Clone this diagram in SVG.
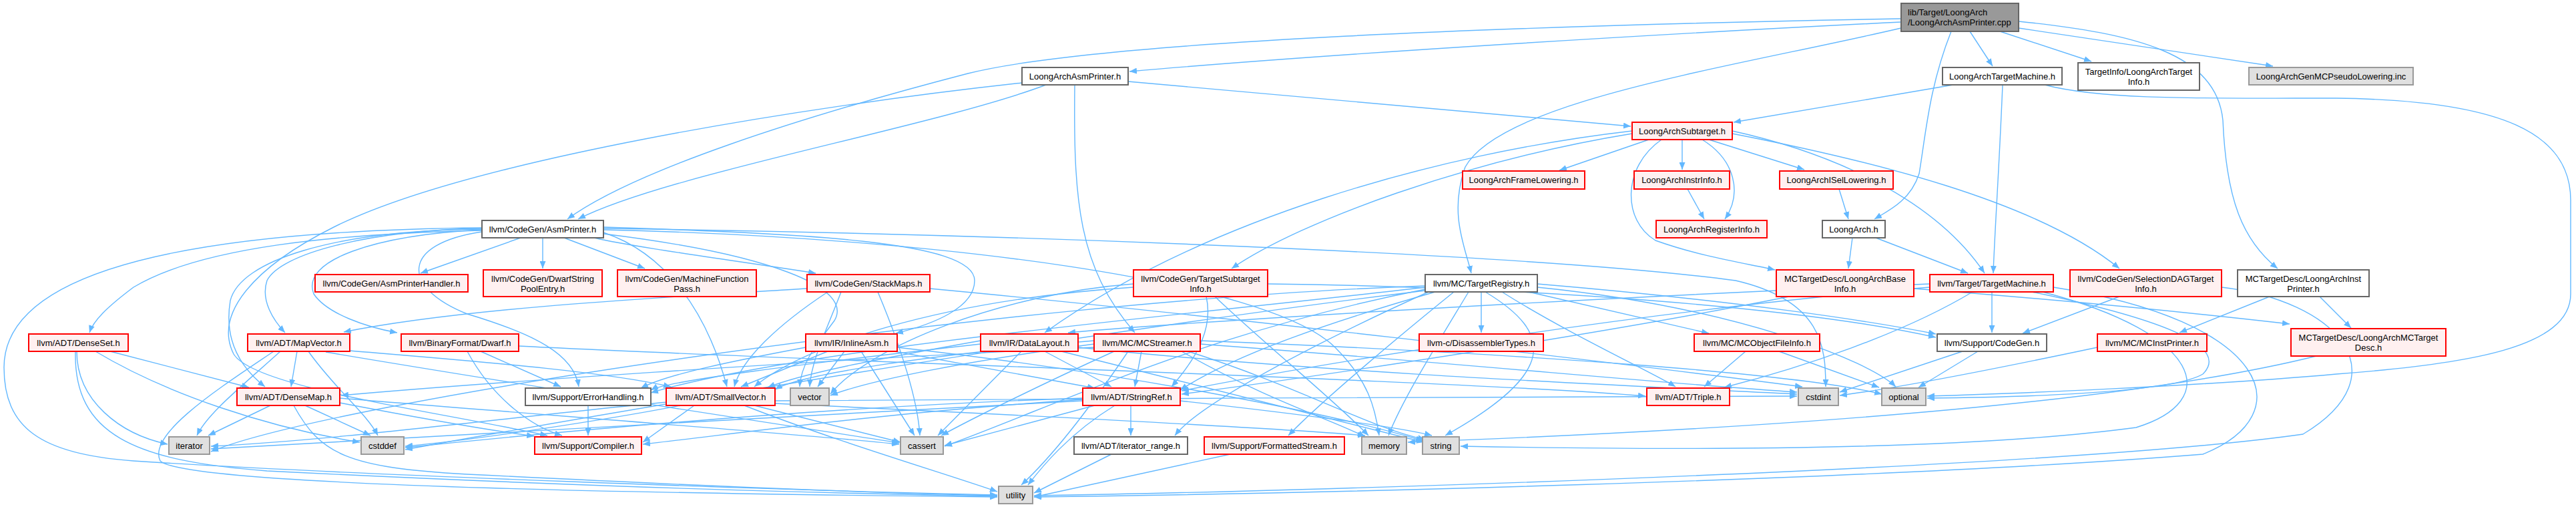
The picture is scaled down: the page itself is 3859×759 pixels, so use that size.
<svg xmlns="http://www.w3.org/2000/svg" width="3859" height="759" viewBox="0 0 3859 759">
<style>
.e{fill:none;stroke:#63b8ff;stroke-width:1.4}
.w{fill:#ffffff;stroke:#666666;stroke-width:2}
.r{fill:#fff0f0;stroke:#ff0000;stroke-width:2}
.g{fill:#e0e0e0;stroke:#999999;stroke-width:2}
.k{fill:#999999;stroke:#666666;stroke-width:2}
text{font-family:"Liberation Sans",Arial,Helvetica,sans-serif;font-size:13px;fill:#000000;text-anchor:middle}
text.l{text-anchor:start}
</style>
<defs>
<marker id="a" markerUnits="userSpaceOnUse" markerWidth="12" markerHeight="9" refX="11" refY="4.5" orient="auto">
<path d="M0,0 L11,4.5 L0,9 z" fill="#63b8ff"/>
</marker>
</defs>
<rect width="3859" height="759" fill="#ffffff"/>
<g id="edges" marker-end="url(#a)">
<path class="e" d="M2848,33 C2500,50 2000,80 1692,107"/>
<path class="e" d="M2848,28 C2300,38 1650,60 1450,110 C1200,175 950,255 850,328"/>
<path class="e" d="M2848,42 C2600,100 2250,150 2195,250 C2170,320 2195,370 2204,409"/>
<path class="e" d="M2923,47 C2890,130 2885,200 2875,260 C2862,300 2830,315 2808,328"/>
<path class="e" d="M2951,47 L2985,99"/>
<path class="e" d="M2996,47 L3133,92"/>
<path class="e" d="M3024,42 L3405,99"/>
<path class="e" d="M3024,32 C3200,50 3320,80 3330,180 C3335,300 3360,360 3412,402"/>
<path class="e" d="M1690,122 L2443,189"/>
<path class="e" d="M1567,127 C1400,190 1000,260 866,328"/>
<path class="e" d="M1610,127 C1608,300 1615,400 1700,498"/>
<path class="e" d="M1531,124 C1200,160 700,240 500,340 C380,400 320,470 350,530 C380,580 650,615 820,652"/>
<path class="e" d="M2926,127 L2597,183"/>
<path class="e" d="M3000,127 C2995,250 2988,350 2986,409"/>
<path class="e" d="M3063,127 C3150,150 3300,147 3500,147 C3750,150 3851,200 3851,300 L3851,440 C3851,520 3700,545 3500,560 C3300,578 3000,590 2887,593"/>
<path class="e" d="M2470,209 L2336,255"/>
<path class="e" d="M2520,209 L2520,254"/>
<path class="e" d="M2550,209 C2600,240 2610,290 2584,328"/>
<path class="e" d="M2560,209 L2703,254"/>
<path class="e" d="M2489,209 C2430,250 2430,330 2480,360 C2550,385 2620,395 2659,404"/>
<path class="e" d="M2445,200 C2200,240 1950,330 1845,402"/>
<path class="e" d="M2445,196 C2150,230 1800,330 1565,498"/>
<path class="e" d="M2595,200 C2800,240 3050,300 3175,402"/>
<path class="e" d="M2595,196 C2750,230 2900,300 2973,409"/>
<path class="e" d="M2528,283 L2553,328"/>
<path class="e" d="M2755,283 L2769,328"/>
<path class="e" d="M2775,356 L2769,402"/>
<path class="e" d="M2810,356 L2948,409"/>
<path class="e" d="M780,356 L630,409"/>
<path class="e" d="M813,356 L813,402"/>
<path class="e" d="M845,356 L966,402"/>
<path class="e" d="M890,356 C950,370 1100,390 1222,409"/>
<path class="e" d="M722,345 C500,350 300,370 200,430 C160,460 140,480 134,498"/>
<path class="e" d="M722,342 C550,345 420,380 400,420 C390,450 410,480 427,498"/>
<path class="e" d="M722,344 C560,352 450,390 470,440 C490,470 550,490 595,498"/>
<path class="e" d="M722,343 C500,345 360,390 345,450 C335,510 360,550 397,579"/>
<path class="e" d="M904,348 C1000,380 1060,470 1089,579"/>
<path class="e" d="M904,340 C1200,350 1460,360 1460,420 C1460,460 1400,485 1342,499"/>
<path class="e" d="M722,347 C600,365 600,430 700,470 C800,500 860,530 867,579"/>
<path class="e" d="M904,350 C1150,380 1280,430 1250,480 C1220,520 1200,545 1198,579"/>
<path class="e" d="M722,341 C300,345 6,400 6,550 C6,640 60,680 200,690 C500,710 1200,735 1494,741"/>
<path class="e" d="M904,342 C1500,350 2300,380 2600,420 C2730,450 2735,520 2735,579"/>
<path class="e" d="M904,344 C1400,355 1900,420 2000,520 C2050,570 2060,610 2066,652"/>
<path class="e" d="M165,526 L373,580"/>
<path class="e" d="M143,526 C250,590 400,640 539,662"/>
<path class="e" d="M115,526 C115,600 180,650 251,665"/>
<path class="e" d="M113,526 C110,650 200,690 400,705 C800,725 1200,738 1494,743"/>
<path class="e" d="M445,526 L436,579"/>
<path class="e" d="M420,526 C360,580 310,620 295,652"/>
<path class="e" d="M462,526 C500,580 550,620 566,652"/>
<path class="e" d="M524,525 C700,540 900,555 1005,579"/>
<path class="e" d="M488,527 C800,580 1200,640 1347,663"/>
<path class="e" d="M410,526 C330,580 220,650 240,690 C280,730 1100,740 1494,744"/>
<path class="e" d="M720,526 L840,579"/>
<path class="e" d="M700,526 C740,600 800,640 842,652"/>
<path class="e" d="M777,518 C1200,540 2200,570 2465,593"/>
<path class="e" d="M405,607 L312,652"/>
<path class="e" d="M457,607 L555,652"/>
<path class="e" d="M509,603 C650,630 740,645 800,653"/>
<path class="e" d="M509,596 C800,620 1200,650 1347,665"/>
<path class="e" d="M440,607 C480,680 520,700 700,710 C1000,725 1300,738 1494,742"/>
<path class="e" d="M881,607 L881,652"/>
<path class="e" d="M1040,607 L963,662"/>
<path class="e" d="M1020,607 C900,630 700,660 607,668"/>
<path class="e" d="M1000,602 C800,620 500,660 316,668"/>
<path class="e" d="M1130,607 L1349,662"/>
<path class="e" d="M1115,607 C1250,660 1420,710 1494,736"/>
<path class="e" d="M1161,600 C1600,600 2300,590 2692,593"/>
<path class="e" d="M1161,604 C1500,620 1900,640 2045,652"/>
<path class="e" d="M1694,607 L1694,652"/>
<path class="e" d="M1670,607 C1600,650 1560,700 1540,726"/>
<path class="e" d="M1640,607 L1415,667"/>
<path class="e" d="M1622,598 C1300,620 1100,650 963,665"/>
<path class="e" d="M1622,596 C1200,610 800,650 607,670"/>
<path class="e" d="M1622,600 C1200,620 600,660 316,672"/>
<path class="e" d="M1768,600 C1950,620 2100,640 2145,652"/>
<path class="e" d="M1665,680 L1549,738"/>
<path class="e" d="M1843,680 L1549,744"/>
<path class="e" d="M1209,432 C1000,445 700,460 515,497"/>
<path class="e" d="M1240,437 C1160,490 1110,540 1100,579"/>
<path class="e" d="M1315,437 C1350,520 1375,600 1378,652"/>
<path class="e" d="M1393,432 C1800,470 2400,540 2700,579"/>
<path class="e" d="M1260,437 C1240,490 1215,540 1213,579"/>
<path class="e" d="M1698,430 C1400,450 1200,520 1130,579"/>
<path class="e" d="M1807,444 C1820,500 1780,550 1755,579"/>
<path class="e" d="M1899,425 C2300,430 2700,460 2900,505"/>
<path class="e" d="M1820,444 C1900,520 2000,600 2050,652"/>
<path class="e" d="M1698,425 C1500,440 1300,520 1244,590"/>
<path class="e" d="M2219,437 L2219,498"/>
<path class="e" d="M2150,437 C2000,480 1850,530 1768,584"/>
<path class="e" d="M2140,437 C2000,500 1800,600 1760,652"/>
<path class="e" d="M2290,437 L2560,499"/>
<path class="e" d="M2303,425 C2600,450 2800,480 2900,500"/>
<path class="e" d="M2135,430 C1800,470 1200,520 975,588"/>
<path class="e" d="M2178,437 C2100,500 1980,600 1930,652"/>
<path class="e" d="M2250,437 C2350,500 2480,560 2510,579"/>
<path class="e" d="M2135,433 C1800,500 1600,600 1415,668"/>
<path class="e" d="M2135,435 C1600,500 900,620 607,673"/>
<path class="e" d="M2135,428 C1500,450 500,600 316,676"/>
<path class="e" d="M2200,437 C2150,520 2100,600 2080,652"/>
<path class="e" d="M2303,430 C2600,460 2800,540 2840,579"/>
<path class="e" d="M2225,437 C2330,500 2330,560 2165,652"/>
<path class="e" d="M1240,526 L1110,579"/>
<path class="e" d="M1340,526 L1640,581"/>
<path class="e" d="M1207,520 C1100,540 1000,560 960,581"/>
<path class="e" d="M1290,526 L1370,652"/>
<path class="e" d="M1344,520 C1700,560 2000,620 2132,660"/>
<path class="e" d="M1265,526 L1225,579"/>
<path class="e" d="M1469,510 C1300,540 1200,560 1150,580"/>
<path class="e" d="M1565,526 L1665,579"/>
<path class="e" d="M1469,515 C1200,545 1000,570 975,584"/>
<path class="e" d="M1530,526 L1405,652"/>
<path class="e" d="M1615,520 C2000,560 2500,580 2692,590"/>
<path class="e" d="M1590,526 C1800,580 2000,630 2133,662"/>
<path class="e" d="M1639,520 C1200,540 700,575 511,592"/>
<path class="e" d="M1639,510 C1400,530 1200,560 1161,583"/>
<path class="e" d="M1710,526 L1700,579"/>
<path class="e" d="M1669,526 C1550,580 1450,630 1410,652"/>
<path class="e" d="M1798,515 C2200,545 2500,575 2692,587"/>
<path class="e" d="M1770,526 C1900,600 2000,630 2045,654"/>
<path class="e" d="M1798,510 C2300,530 2700,560 2819,590"/>
<path class="e" d="M1780,526 C1950,580 2050,640 2135,658"/>
<path class="e" d="M1690,526 C1640,600 1580,680 1530,726"/>
<path class="e" d="M1639,515 C1450,540 1300,570 1244,592"/>
<path class="e" d="M2615,526 L2553,579"/>
<path class="e" d="M2665,526 L2815,580"/>
<path class="e" d="M2940,526 L2756,587"/>
<path class="e" d="M2963,526 L2874,580"/>
<path class="e" d="M2984,437 L2984,498"/>
<path class="e" d="M2891,430 C2500,460 2000,540 1770,585"/>
<path class="e" d="M2891,425 C2400,445 1800,480 1600,498"/>
<path class="e" d="M2955,437 C2850,500 2700,550 2583,580"/>
<path class="e" d="M3044,437 C3250,480 3340,520 3300,560 C3250,590 3000,595 2887,596"/>
<path class="e" d="M3060,437 C3300,500 3330,600 3200,640 C2900,680 2400,672 2188,668"/>
<path class="e" d="M3076,430 C3400,480 3450,620 3300,680 C2800,720 1900,740 1549,744"/>
<path class="e" d="M3175,444 L3030,499"/>
<path class="e" d="M3328,430 C3500,450 3600,560 3450,650 C3100,700 2000,735 1549,742"/>
<path class="e" d="M3400,444 L3265,498"/>
<path class="e" d="M3475,444 L3522,491"/>
<path class="e" d="M3142,520 C3000,550 2850,580 2756,592"/>
<path class="e" d="M3470,533 C3200,600 2700,640 2109,662"/>
<path class="e" d="M2867,432 C3100,450 3300,470 3430,485"/>
<path class="e" d="M2680,444 C2400,500 2000,560 1770,590"/>
</g>
<g id="n0"><rect class="k" x="2848" y="5" width="176" height="42"/><text class="l" x="2858" y="22.5">lib/Target/LoongArch</text><text class="l" x="2858" y="37.5">/LoongArchAsmPrinter.cpp</text></g>
<g id="n1"><rect class="w" x="1531" y="101" width="159" height="26"/><text x="1610.5" y="118.5">LoongArchAsmPrinter.h</text></g>
<g id="n2"><rect class="w" x="2910" y="101" width="179" height="26"/><text x="2999.5" y="118.5">LoongArchTargetMachine.h</text></g>
<g id="n3"><rect class="w" x="3113" y="94" width="182" height="41"/><text x="3204" y="111.5">TargetInfo/LoongArchTarget</text><text x="3204" y="126.5">Info.h</text></g>
<g id="n4"><rect class="g" x="3369" y="101" width="246" height="26"/><text x="3492" y="118.5">LoongArchGenMCPseudoLowering.inc</text></g>
<g id="n5"><rect class="r" x="2445" y="183" width="150" height="26"/><text x="2520" y="200.5">LoongArchSubtarget.h</text></g>
<g id="n6"><rect class="r" x="2191" y="256" width="183" height="27"/><text x="2282.5" y="274">LoongArchFrameLowering.h</text></g>
<g id="n7"><rect class="r" x="2448" y="256" width="143" height="27"/><text x="2519.5" y="274">LoongArchInstrInfo.h</text></g>
<g id="n8"><rect class="r" x="2666" y="256" width="170" height="27"/><text x="2751" y="274">LoongArchISelLowering.h</text></g>
<g id="n9"><rect class="w" x="722" y="330" width="182" height="26"/><text x="813" y="347.5">llvm/CodeGen/AsmPrinter.h</text></g>
<g id="n10"><rect class="r" x="2481" y="330" width="166" height="26"/><text x="2564" y="347.5">LoongArchRegisterInfo.h</text></g>
<g id="n11"><rect class="w" x="2730" y="330" width="94" height="26"/><text x="2777" y="347.5">LoongArch.h</text></g>
<g id="n12"><rect class="r" x="472" y="411" width="229" height="26"/><text x="586.5" y="428.5">llvm/CodeGen/AsmPrinterHandler.h</text></g>
<g id="n13"><rect class="r" x="724" y="404" width="178" height="40"/><text x="813" y="421.5">llvm/CodeGen/DwarfString</text><text x="813" y="436.5">PoolEntry.h</text></g>
<g id="n14"><rect class="r" x="925" y="404" width="208" height="40"/><text x="1029" y="421.5">llvm/CodeGen/MachineFunction</text><text x="1029" y="436.5">Pass.h</text></g>
<g id="n15"><rect class="r" x="1209" y="411" width="184" height="26"/><text x="1301" y="428.5">llvm/CodeGen/StackMaps.h</text></g>
<g id="n16"><rect class="r" x="1698" y="404" width="201" height="40"/><text x="1798.5" y="421.5">llvm/CodeGen/TargetSubtarget</text><text x="1798.5" y="436.5">Info.h</text></g>
<g id="n17"><rect class="w" x="2135" y="411" width="168" height="26"/><text x="2219" y="428.5">llvm/MC/TargetRegistry.h</text></g>
<g id="n18"><rect class="r" x="2661" y="404" width="206" height="40"/><text x="2764" y="421.5">MCTargetDesc/LoongArchBase</text><text x="2764" y="436.5">Info.h</text></g>
<g id="n19"><rect class="r" x="2891" y="411" width="185" height="26"/><text x="2983.5" y="428.5">llvm/Target/TargetMachine.h</text></g>
<g id="n20"><rect class="r" x="3101" y="404" width="227" height="40"/><text x="3214.5" y="421.5">llvm/CodeGen/SelectionDAGTarget</text><text x="3214.5" y="436.5">Info.h</text></g>
<g id="n21"><rect class="w" x="3352" y="404" width="197" height="40"/><text x="3450.5" y="421.5">MCTargetDesc/LoongArchInst</text><text x="3450.5" y="436.5">Printer.h</text></g>
<g id="n22"><rect class="r" x="43" y="500" width="149" height="26"/><text x="117.5" y="517.5">llvm/ADT/DenseSet.h</text></g>
<g id="n23"><rect class="r" x="371" y="500" width="153" height="26"/><text x="447.5" y="517.5">llvm/ADT/MapVector.h</text></g>
<g id="n24"><rect class="r" x="601" y="500" width="176" height="26"/><text x="689" y="517.5">llvm/BinaryFormat/Dwarf.h</text></g>
<g id="n25"><rect class="r" x="1207" y="500" width="137" height="26"/><text x="1275.5" y="517.5">llvm/IR/InlineAsm.h</text></g>
<g id="n26"><rect class="r" x="1469" y="500" width="146" height="26"/><text x="1542" y="517.5">llvm/IR/DataLayout.h</text></g>
<g id="n27"><rect class="r" x="1639" y="500" width="159" height="26"/><text x="1718.5" y="517.5">llvm/MC/MCStreamer.h</text></g>
<g id="n28"><rect class="r" x="2126" y="500" width="186" height="26"/><text x="2219" y="517.5">llvm-c/DisassemblerTypes.h</text></g>
<g id="n29"><rect class="r" x="2538" y="500" width="188" height="26"/><text x="2632" y="517.5">llvm/MC/MCObjectFileInfo.h</text></g>
<g id="n30"><rect class="w" x="2902" y="500" width="164" height="26"/><text x="2984" y="517.5">llvm/Support/CodeGen.h</text></g>
<g id="n31"><rect class="r" x="3142" y="500" width="164" height="26"/><text x="3224" y="517.5">llvm/MC/MCInstPrinter.h</text></g>
<g id="n32"><rect class="r" x="3432" y="492" width="232" height="41"/><text x="3548" y="509.5">MCTargetDesc/LoongArchMCTarget</text><text x="3548" y="524.5">Desc.h</text></g>
<g id="n33"><rect class="r" x="355" y="581" width="154" height="26"/><text x="432" y="598.5">llvm/ADT/DenseMap.h</text></g>
<g id="n34"><rect class="w" x="787" y="581" width="188" height="26"/><text x="881" y="598.5">llvm/Support/ErrorHandling.h</text></g>
<g id="n35"><rect class="r" x="998" y="581" width="163" height="26"/><text x="1079.5" y="598.5">llvm/ADT/SmallVector.h</text></g>
<g id="n36"><rect class="g" x="1184" y="581" width="58" height="26"/><text x="1213" y="598.5">vector</text></g>
<g id="n37"><rect class="r" x="1622" y="581" width="146" height="26"/><text x="1695" y="598.5">llvm/ADT/StringRef.h</text></g>
<g id="n38"><rect class="r" x="2467" y="581" width="124" height="26"/><text x="2529" y="598.5">llvm/ADT/Triple.h</text></g>
<g id="n39"><rect class="g" x="2694" y="581" width="60" height="26"/><text x="2724" y="598.5">cstdint</text></g>
<g id="n40"><rect class="g" x="2819" y="581" width="66" height="26"/><text x="2852" y="598.5">optional</text></g>
<g id="n41"><rect class="g" x="253" y="654" width="61" height="26"/><text x="283.5" y="671.5">iterator</text></g>
<g id="n42"><rect class="g" x="541" y="654" width="64" height="26"/><text x="573" y="671.5">cstddef</text></g>
<g id="n43"><rect class="r" x="801" y="654" width="160" height="26"/><text x="881" y="671.5">llvm/Support/Compiler.h</text></g>
<g id="n44"><rect class="g" x="1349" y="654" width="64" height="26"/><text x="1381" y="671.5">cassert</text></g>
<g id="n45"><rect class="w" x="1609" y="654" width="170" height="26"/><text x="1694" y="671.5">llvm/ADT/iterator_range.h</text></g>
<g id="n46"><rect class="r" x="1804" y="654" width="210" height="26"/><text x="1909" y="671.5">llvm/Support/FormattedStream.h</text></g>
<g id="n47"><rect class="g" x="2040" y="654" width="67" height="26"/><text x="2073.5" y="671.5">memory</text></g>
<g id="n48"><rect class="g" x="2131" y="654" width="55" height="26"/><text x="2158.5" y="671.5">string</text></g>
<g id="n49"><rect class="g" x="1496" y="728" width="51" height="26"/><text x="1521.5" y="745.5">utility</text></g>
</svg>
